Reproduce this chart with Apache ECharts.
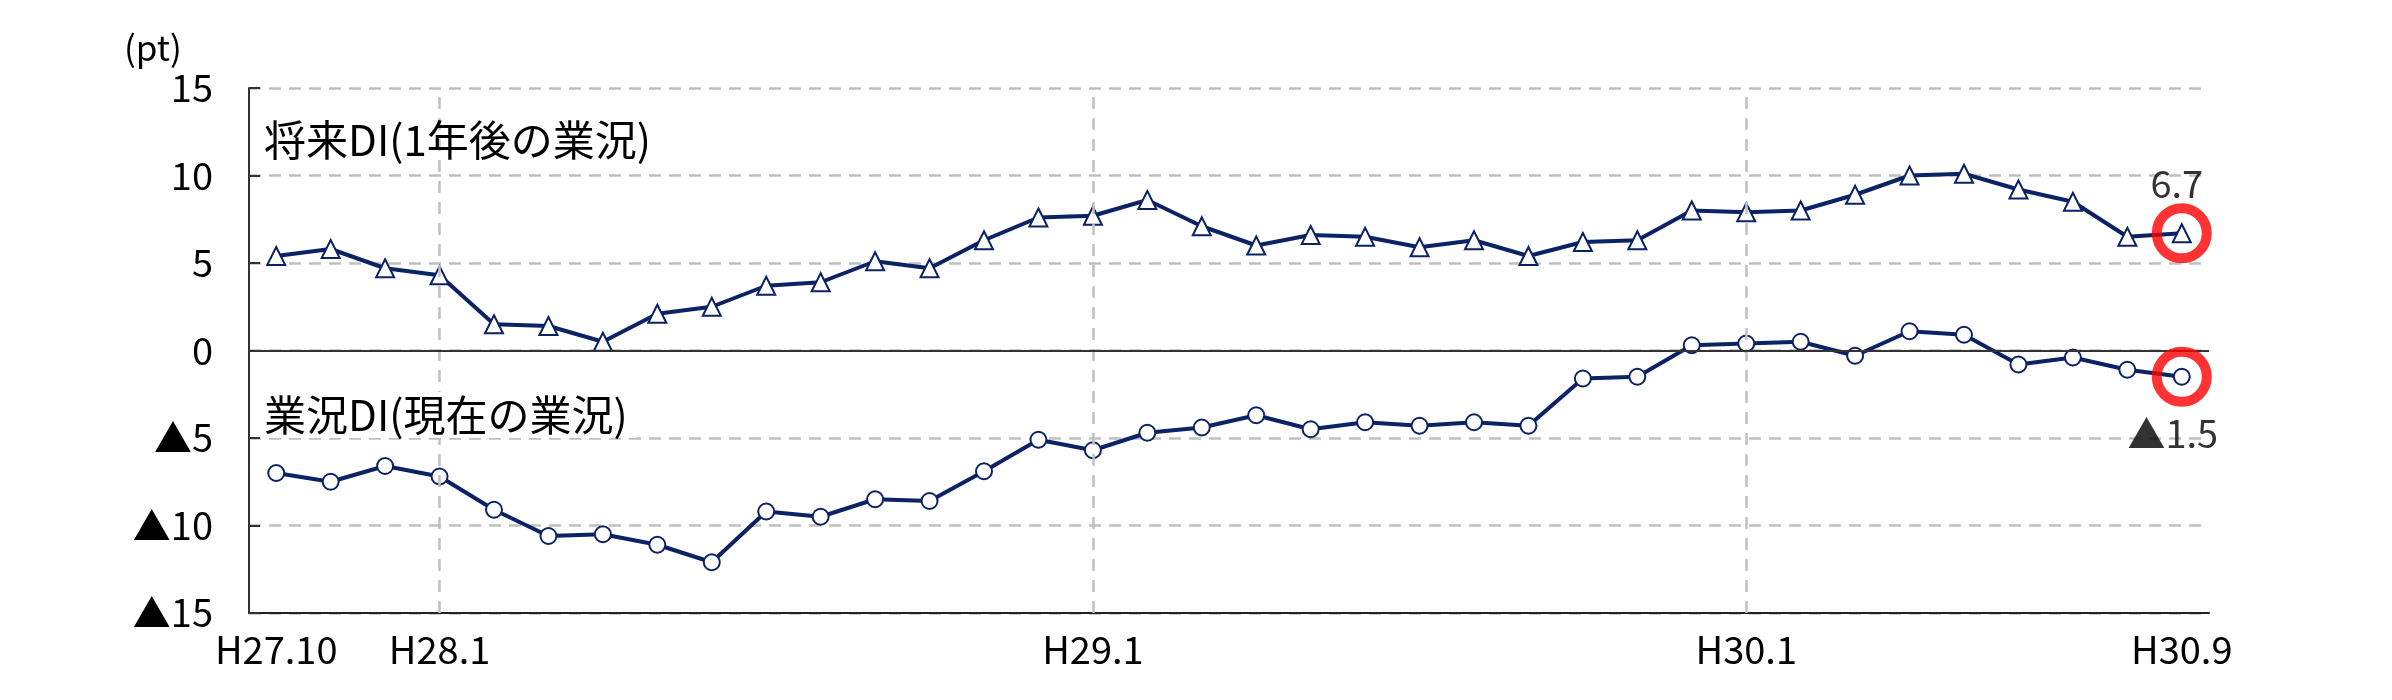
<!DOCTYPE html>
<html>
<head>
<meta charset="utf-8">
<script src="https://cdn.jsdelivr.net/npm/echarts@6/dist/echarts.min.js"></script>
<style>
html,body{margin:0;padding:0;background:#fff;}
#chart{width:2392px;height:700px;}
</style>
</head>
<body>
<div id="chart"></div>
<script>
const categories = ['H27.10','H27.11','H27.12',
  'H28.1','H28.2','H28.3','H28.4','H28.5','H28.6','H28.7','H28.8','H28.9','H28.10','H28.11','H28.12',
  'H29.1','H29.2','H29.3','H29.4','H29.5','H29.6','H29.7','H29.8','H29.9','H29.10','H29.11','H29.12',
  'H30.1','H30.2','H30.3','H30.4','H30.5','H30.6','H30.7','H30.8','H30.9'];
const futureDI = [5.4,5.8,4.7,4.3,1.5,1.4,0.5,2.1,2.5,3.7,3.9,5.1,4.7,6.3,7.6,7.7,8.6,7.1,6.0,6.6,6.5,5.9,6.3,5.4,6.2,6.3,8.0,7.9,8.0,8.9,10.0,10.1,9.2,8.5,6.5,6.7];
const currentDI = [-7.0,-7.5,-6.6,-7.2,-9.1,-10.6,-10.5,-11.1,-12.1,-9.2,-9.5,-8.5,-8.6,-6.9,-5.1,-5.7,-4.7,-4.4,-3.7,-4.5,-4.1,-4.3,-4.1,-4.3,-1.6,-1.5,0.3,0.4,0.5,-0.3,1.1,0.9,-0.8,-0.4,-1.1,-1.5];
const shownLabels = ['H27.10','H28.1','H29.1','H30.1','H30.9'];
const yearLines = ['H28.1','H29.1','H30.1'];
const seriesNames = ['将来DI(1年後の業況)','業況DI(現在の業況)'];
const unitLabel = '(pt)';

const FONT = '"Noto Sans CJK JP", sans-serif';
const NAVY = '#0b2265';
const fmt = v => v < 0 ? '▲' + Math.abs(v) : String(v);
const last = categories.length - 1;

const chart = echarts.init(document.getElementById('chart'));
chart.setOption({
  animation: false,
  backgroundColor: '#fff',
  textStyle: {fontFamily: FONT},
  grid: {left: 249, right: 183, top: 88, bottom: 87, containLabel: false},
  xAxis: {
    type: 'category',
    data: categories,
    boundaryGap: true,
    axisLine: {onZero: false, lineStyle: {color: '#222', width: 2}},
    axisTick: {show: false},
    splitLine: {show: false},
    axisLabel: {
      interval: (i, v) => shownLabels.includes(v),
      color: '#000', fontSize: 38, fontFamily: FONT, margin: 18
    }
  },
  yAxis: {
    type: 'value',
    min: -15, max: 15, interval: 5,
    axisLine: {show: true, lineStyle: {color: '#333', width: 2}},
    axisTick: {show: true, inside: true, length: 11, lineStyle: {color: '#333', width: 2}},
    axisLabel: {formatter: fmt, color: '#000', fontSize: 38, fontFamily: FONT, margin: 36},
    splitLine: {lineStyle: {color: '#c0c0c0', width: 2.5, type: [12, 8]}}
  },
  graphic: [
    {type: 'text', left: 124, top: 30, style: {text: unitLabel, font: '35px ' + FONT, fill: '#000'}},
    {type: 'text', left: 264, top: 119, z: 10,
      style: {text: seriesNames[0], font: '42px ' + FONT, fill: '#000'}},
    {type: 'text', left: 264, top: 392, z: 10,
      style: {text: seriesNames[1], font: '42px ' + FONT, fill: '#000', backgroundColor: '#fff', padding: [2, 8, 2, 0]}}
  ],
  series: [
    {
      type: 'line', data: [], z: 1, silent: true,
      markLine: {
        silent: true, symbol: 'none', label: {show: false}, animation: false,
        data: yearLines.map(c => ({xAxis: c, lineStyle: {color: '#c0c0c0', width: 2.5, type: [12, 9]}}))
          .concat([{yAxis: 0, lineStyle: {color: '#333', width: 2, type: 'solid'}}])
      }
    },
    {
      name: seriesNames[0], type: 'line', data: futureDI, z: 3,
      symbol: 'triangle', symbolSize: 18,
      lineStyle: {color: NAVY, width: 4},
      itemStyle: {color: '#fff', borderColor: NAVY, borderWidth: 2}
    },
    {
      name: seriesNames[1], type: 'line', data: currentDI, z: 3,
      symbol: 'circle', symbolSize: 16,
      lineStyle: {color: NAVY, width: 4},
      itemStyle: {color: '#fff', borderColor: NAVY, borderWidth: 2}
    },
    {
      type: 'scatter', z: 6, silent: true,
      symbol: 'circle', symbolSize: 50,
      itemStyle: {color: 'rgba(0,0,0,0)', borderColor: '#ff0000', borderWidth: 10},
      label: {
        show: true, position: 'inside', color: '#000', fontSize: 38, fontFamily: FONT,
        formatter: p => { const v = p.value[1]; return v < 0 ? '▲' + Math.abs(v).toFixed(1) : v.toFixed(1); }
      },
      data: [
        {value: [last, futureDI[last]], label: {offset: [-5, -50]}},
        {value: [last, currentDI[last]], label: {offset: [-9, 57]}}
      ]
    }
  ]
});
</script>
</body>
</html>
